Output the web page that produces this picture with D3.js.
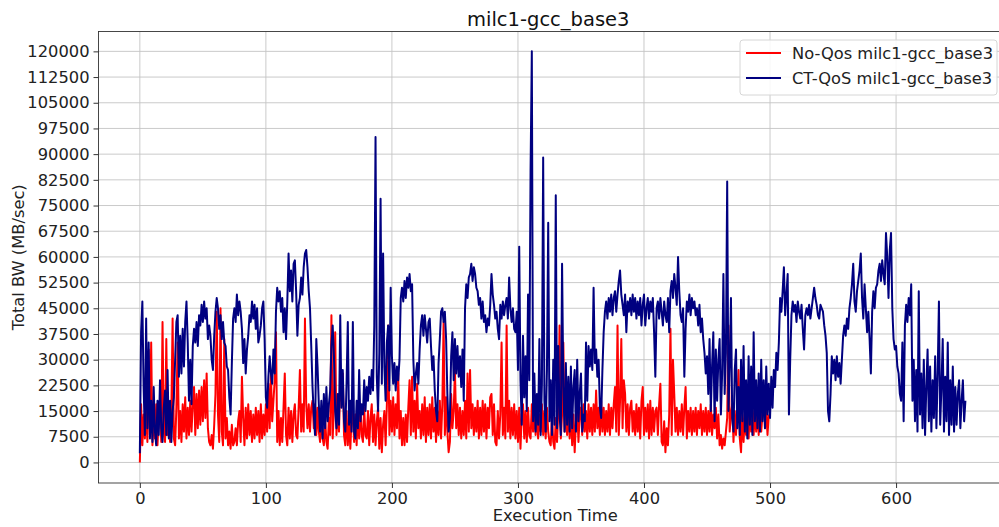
<!DOCTYPE html>
<html>
<head>
<meta charset="utf-8">
<script src="https://cdn.jsdelivr.net/npm/d3@7"></script>
<style>
  html, body { margin: 0; padding: 0; background: #fff; }
  svg { display: block; font-family: "DejaVu Sans", sans-serif; }
</style>
</head>
<body>
<svg id="chart" width="999" height="527"></svg>
<script>
// ---- data (bandwidth in thousands of MB/sec, one sample per time unit) ----
const chartTitle = "milc1-gcc_base3";
const seriesNames = ["No-Qos milc1-gcc_base3", "CT-QoS milc1-gcc_base3"];
const seriesColors = ["#ff0000", "#000080"];

const noQosK = [
 0,17,5,14,7,16,6,33,8,35,
 5,15,7,17,5,13,16,6,41,9,
 6,36,8,16,6,15,42,7,5,16,
 35,7,15,6,17,9,19,7,16,8,
 18,9,17,22,8,20,10,21,11,22,
 12,24,13,26,10,6,5,8,4,11,
 20,44,14,6,45,9,5,36,7,13,
 5,9,4,11,5,6,10,5,12,15,
 6,25,13,5,16,7,17,8,15,6,
 14,7,16,8,15,6,17,7,14,8,
 17,9,23,10,26,12,18,24,38,6,
 15,5,13,6,16,26,8,5,16,7,
 15,6,14,17,8,7,16,27,9,17,
 9,42,17,10,17,9,16,18,10,17,
 8,16,9,6,15,7,5,13,6,4,
 13,8,43,7,16,38,8,17,9,24,
 18,26,8,5,15,5,12,4,13,15,
 6,14,5,15,7,17,8,6,16,8,
 7,15,5,13,17,6,14,5,12,16,
 4,13,3,11,15,5,17,40,8,18,
 9,19,8,17,10,26,7,15,5,13,
 5,14,6,16,24,8,25,9,18,7,
 23,10,15,7,17,8,19,6,16,8,
 17,7,19,9,16,6,15,8,18,7,
 17,41,8,19,9,3,6,20,10,15,
 27,10,17,8,16,7,15,8,18,7,
 26,9,27,10,17,8,16,9,18,7,
 16,8,18,9,17,7,16,10,19,20,
 8,17,6,5,15,7,14,35,8,16,
 7,40,9,18,7,16,8,17,7,15,
 6,16,4,14,17,7,15,6,16,8,
 7,17,9,15,8,16,7,14,9,17,
 8,15,7,16,9,6,5,14,6,4,
 13,6,15,40,7,14,35,9,16,8,
 17,7,15,5,14,3,12,16,6,14,
 16,8,17,9,15,7,17,9,16,8,
 17,9,21,10,16,8,18,9,16,8,
 15,9,17,8,16,10,17,22,9,40,
 8,18,36,10,24,20,9,17,8,16,
 18,9,15,8,17,9,16,7,18,22,
 8,16,9,17,7,18,8,16,9,15,
 16,8,17,23,6,5,12,3,10,5,
 14,39,8,30,20,9,16,8,15,9,
 17,8,16,22,7,15,9,16,8,15,
 9,16,8,15,10,17,8,15,9,16,
 8,15,9,17,8,14,10,16,7,14,
 5,8,4,7,5,9,13,40,9,14,
 17,6,15,8,16,27,7,3,15,6,
 14,8,16,7,15,9,17,8,15,9,
 16,8,17,9,14,18,10,15,8,14
];

const ctQosK = [
 2.7,38,47,22,8,42,10,35,7,18,
 6,22,9,5,18,8,24,10,6,16,
 21,8,27,7,18,6,15,19,30,41,
 43,25,37,26,39,28,41,47,35,18,
 30,17,34,39,35,41,34,43,40,46,
 41,47,42,45,36,40,37,30,27,37,
 44,48,45,39,43,36,41,35,34,28,
 27,19,14,29,42,45,41,49,43,47,
 44,39,29,36,26,33,37,43,41,47,
 42,46,39,45,35,37,40,45,47,36,
 19,16,25,31,26,23,33,26,44,51,
 47,50,44,48,38,45,36,47,61,50,
 56,47,58,59,50,37,46,48,54,49,
 57,61,62,57,50,45,34,22,14,8,
 36,28,17,9,18,7,20,10,22,12,
 17,21,34,40,31,15,10,20,11,43,
 16,27,12,9,23,41,11,18,9,41,
 9,7,18,10,27,12,17,14,24,15,
 22,18,25,20,27,21,40,95,25,15,
 32,77,23,61,28,18,35,40,21,51,
 31,23,29,21,28,24,30,48,51,47,
 53,48,54,51,55,50,52,30,21,26,
 29,23,33,40,43,37,43,39,35,41,
 42,34,27,31,21,15,12,29,36,44,
 45,41,44,36,20,9,13,31,38,24,
 36,26,34,25,31,22,33,18,45,52,
 48,54,55,58,53,57,55,51,50,46,
 48,42,47,41,43,38,42,40,46,55,
 49,46,42,44,39,36,46,42,47,43,
 46,48,42,54,45,41,45,39,38,44,
 27,63,24,11,37,19,31,15,49,24,
 85,120,12,26,9,20,11,36,8,23,
 89,18,9,27,70,12,24,8,30,11,
 78,10,34,14,8,58,22,9,29,11,
 25,9,28,10,22,27,9,30,12,20,
 26,9,14,12,35,18,34,28,33,27,
 51,29,33,25,30,16,13,27,38,44,
 47,42,48,44,49,43,48,50,44,49,
 53,56,49,46,43,49,38,47,44,48,
 43,49,44,48,42,47,43,48,40,46,
 49,40,45,48,42,47,44,48,38,25,
 45,47,42,48,44,40,47,43,41,48,
 38,50,53,48,55,51,46,60,50,43,
 41,45,25,39,47,44,49,43,48,45,
 47,43,45,40,46,38,42,36,32,26,
 31,20,36,15,28,38,12,33,18,30,
 36,14,26,55,20,32,82,15,28,48,
 13,9,27,33,10,22,8,30,12,34,
 9,24,7,31,11,28,8,38,12,24,
 10,26,9,30,12,24,10,28,14,23,
 13,25,16,27,22,32,27,35,48,44,
 50,57,43,49,55,14,30,43,47,44,
 46,41,47,44,42,46,39,33,43,45,
 43,46,42,45,48,51,48,46,43,42,
 46,45,44,40,37,32,15,12,20,31,
 26,30,24,31,25,29,23,30,37,40,
 37,42,39,45,48,52,58,47,44,50,
 53,56,61,48,42,52,45,38,44,36,
 26,44,50,45,51,52,56,58,53,59,
 55,52,67,60,48,62,67,45,36,33,
 34,28,26,20,18,35,12,40,46,41,
 48,43,52,18,30,12,27,9,50,14,
 26,10,30,8,22,33,12,28,9,24,
 13,31,10,26,47,11,22,36,9,25,
 12,35,8,24,11,28,9,22,11,20,
 24,10,18,24,12,18
];

const xTickValues = [0, 100, 200, 300, 400, 500, 600];
const xTickLabels = ["0", "100", "200", "300", "400", "500", "600"];
const yTickValuesK = [0, 7.5, 15, 22.5, 30, 37.5, 45, 52.5, 60, 67.5, 75, 82.5, 90, 97.5, 105, 112.5, 120];
const yTickLabels = ["0","7500","15000","22500","30000","37500","45000","52500","60000","67500","75000","82500","90000","97500","105000","112500","120000"];
const xLabel = "Execution Time";
const yLabel = "Total BW (MB/sec)";

// ---- layout ----
const W = 999, H = 527;
const plot = { left: 98.5, right: 1008, top: 31.5, bottom: 483 };
const svg = d3.select("#chart");

const x = d3.scaleLinear().domain([-32.8, 688.8]).range([plot.left, plot.right]);
const y = d3.scaleLinear().domain([-6, 125.8]).range([plot.bottom, plot.top]);

const defs = svg.append("defs");
defs.append("clipPath").attr("id", "clip")
  .append("rect").attr("x", plot.left).attr("y", plot.top)
  .attr("width", plot.right - plot.left).attr("height", plot.bottom - plot.top);

// grid
const grid = svg.append("g");
grid.selectAll("line.gx").data(xTickValues).enter().append("line")
  .attr("x1", d => x(d)).attr("x2", d => x(d))
  .attr("y1", plot.top).attr("y2", plot.bottom)
  .attr("stroke", "#c4c4c4").attr("stroke-width", 0.9);
grid.selectAll("line.gy").data(yTickValuesK).enter().append("line")
  .attr("x1", plot.left).attr("x2", plot.right)
  .attr("y1", d => y(d)).attr("y2", d => y(d))
  .attr("stroke", "#c4c4c4").attr("stroke-width", 0.9);

// lines
const red = noQosK.map((v, i) => [i, v]);
const blue = ctQosK.map((v, i) => [i, v]);
const line = d3.line().x(d => x(d[0])).y(d => y(d[1]));
const lines = svg.append("g").attr("clip-path", "url(#clip)");
lines.append("path").datum(red).attr("d", line)
  .attr("fill", "none").attr("stroke", seriesColors[0]).attr("stroke-width", 2)
  .attr("stroke-linejoin", "round");
lines.append("path").datum(blue).attr("d", line)
  .attr("fill", "none").attr("stroke", seriesColors[1]).attr("stroke-width", 2)
  .attr("stroke-linejoin", "round");

// frame
svg.append("rect").attr("x", plot.left).attr("y", plot.top)
  .attr("width", plot.right - plot.left).attr("height", plot.bottom - plot.top)
  .attr("fill", "none").attr("stroke", "#333").attr("stroke-width", 0.9);

// axes
const fontSize = 16.3;
const xAxis = d3.axisBottom(x).tickValues(xTickValues)
  .tickFormat((d, i) => xTickLabels[i]).tickSize(5).tickPadding(4);
const gx = svg.append("g").attr("transform", `translate(0,${plot.bottom})`).call(xAxis);
gx.select(".domain").remove();
gx.selectAll("line").attr("stroke", "#333");
gx.selectAll("text").attr("font-size", fontSize).attr("fill", "#222")
  .attr("font-family", "DejaVu Sans");

const yAxis = d3.axisLeft(y).tickValues(yTickValuesK)
  .tickFormat((d, i) => yTickLabels[i]).tickSize(5).tickPadding(4);
const gy = svg.append("g").attr("transform", `translate(${plot.left},0)`).call(yAxis);
gy.select(".domain").remove();
gy.selectAll("line").attr("stroke", "#333");
gy.selectAll("text").attr("font-size", fontSize).attr("fill", "#222")
  .attr("font-family", "DejaVu Sans");

// labels
svg.append("text").attr("x", (plot.left + 998) / 2).attr("y", 26)
  .attr("text-anchor", "middle").attr("font-size", 19.5).attr("fill", "#111")
  .text(chartTitle);
svg.append("text").attr("x", (plot.left + 998) / 2 + 7).attr("y", 521)
  .attr("text-anchor", "middle").attr("font-size", fontSize).attr("fill", "#222")
  .text(xLabel);
svg.append("text").attr("transform", `translate(24,${(plot.top + plot.bottom) / 2}) rotate(-90)`)
  .attr("text-anchor", "middle").attr("font-size", fontSize).attr("fill", "#222")
  .text(yLabel);

// legend
const lg = svg.append("g");
lg.append("rect").attr("x", 740).attr("y", 40).attr("width", 257).attr("height", 55)
  .attr("rx", 3).attr("fill", "#fff").attr("fill-opacity", 0.85)
  .attr("stroke", "#d6d6d6").attr("stroke-width", 1);
seriesNames.forEach((name, i) => {
  const yy = 53 + i * 25;
  lg.append("line").attr("x1", 746).attr("x2", 781).attr("y1", yy).attr("y2", yy)
    .attr("stroke", seriesColors[i]).attr("stroke-width", 2);
  lg.append("text").attr("x", 792).attr("y", yy + 6)
    .attr("font-size", fontSize).attr("fill", "#222").text(name);
});
</script>
</body>
</html>
